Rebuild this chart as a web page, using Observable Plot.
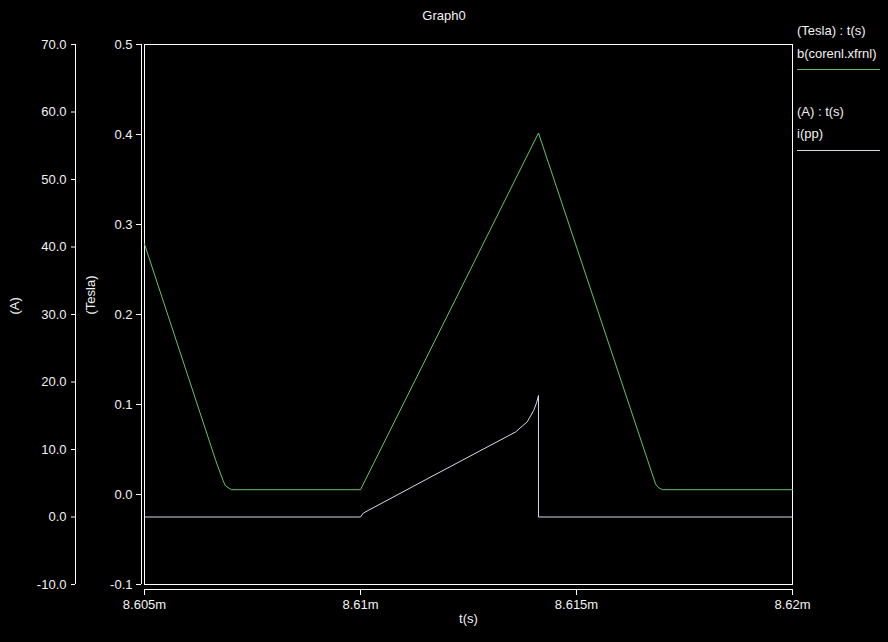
<!DOCTYPE html>
<html><head><meta charset="utf-8">
<script src="https://cdn.jsdelivr.net/npm/d3@7"></script>
<script src="https://cdn.jsdelivr.net/npm/@observablehq/plot@0.6"></script>
<style>
html,body{margin:0;padding:0;background:#000;}
#wrap{position:relative;width:888px;height:642px;background:#000;font-family:"Liberation Sans",Arial,sans-serif;font-size:13px;color:#f2f2f2;overflow:hidden}
#wrap svg{position:absolute;left:0;top:0}
.t{position:absolute;white-space:nowrap;line-height:15px}
.ln{position:absolute;height:1px}
</style></head><body>
<div id="wrap">
  <div class="t" style="left:0;width:888px;text-align:center;top:8px">Graph0</div>
  <div class="t" style="left:797px;top:23px">(Tesla) : t(s)</div>
  <div class="t" style="left:797px;top:46px">b(corenl.xfrnl)</div>
  <div class="ln" style="left:797px;top:69px;width:83px;background:#5fc05f"></div>
  <div class="t" style="left:797px;top:104px">(A) : t(s)</div>
  <div class="t" style="left:797px;top:126px">i(pp)</div>
  <div class="ln" style="left:797px;top:150px;width:83px;background:#dcd6ea"></div>
</div>
<script>
// time in ms
const tB   = [8.60500, 8.60665, 8.60682, 8.60687, 8.60701, 8.61000, 8.61126, 8.61412, 8.61665, 8.61683, 8.61690, 8.61699, 8.62000];
const bVal = [0.2783, 0.0376, 0.0153, 0.0098, 0.0053, 0.0053, 0.1264, 0.4017, 0.0376, 0.0117, 0.0076, 0.0053, 0.0053];
const tA   = [8.60500, 8.61000, 8.61007, 8.61150, 8.61359, 8.61386, 8.61401, 8.61408, 8.61412, 8.61412, 8.62000];
const aVal = [0, 0, 0.6, 5.5, 12.6, 14.1, 15.8, 17.0, 18.0, 0, 0];
const xTicks = [8.605, 8.61, 8.615, 8.62];
const xTickLabels = ["8.605m", "8.61m", "8.615m", "8.62m"];
const teslaTicks = [-0.1, 0, 0.1, 0.2, 0.3, 0.4, 0.5];
const ampTicks = [-10, 0, 10, 20, 30, 40, 50, 60, 70];

const W = 888, H = 642;
const M = {marginLeft: 144, marginRight: 96, marginTop: 44, marginBottom: 58};
const style = {background: "transparent", color: "#f2f2f2", fontFamily: '"Liberation Sans", Arial, sans-serif', fontSize: "13px", overflow: "visible"};
const fg = "#f2f2f2";

const bData = tB.map((t, i) => ({t, v: bVal[i]}));
const aData = tA.map((t, i) => ({t, v: aVal[i]}));

const p1 = Plot.plot({
  width: W, height: H, ...M, style,
  x: {domain: [8.605, 8.62]},
  y: {domain: [-0.1, 0.5]},
  marks: [
    Plot.frame({stroke: "#fff"}),
    Plot.ruleY([-0.1], {dy: 5, stroke: "#fff"}),
    Plot.axisX(xTicks, {anchor: "bottom", dy: 5, tickSize: 6, tickPadding: 4, label: null, stroke: "#fff",
      tickFormat: d => xTickLabels[xTicks.indexOf(d)]}),
    Plot.ruleX([8.605], {dx: -3, stroke: "#fff"}),
    Plot.axisY(teslaTicks, {anchor: "left", dx: -3, tickSize: 5, tickPadding: 4, label: null, stroke: "#fff",
      tickFormat: d => d.toFixed(1)}),
    Plot.text(["(Tesla)"], {text: d => d, frameAnchor: "left", dx: -54, rotate: -90, fill: fg}),
    Plot.text(["(A)"], {text: d => d, frameAnchor: "left", dx: -130, rotate: -90, fill: fg}),
    Plot.text(["t(s)"], {text: d => d, frameAnchor: "bottom", dy: 38, fill: fg}),
    Plot.line(bData, {x: "t", y: "v", stroke: "#66c466", strokeWidth: 1})
  ]
});

const p2 = Plot.plot({
  width: W, height: H, ...M, style,
  x: {domain: [8.605, 8.62], axis: null},
  y: {domain: [-10, 70]},
  marks: [
    Plot.ruleX([8.605], {dx: -69, stroke: "#fff"}),
    Plot.axisY(ampTicks, {anchor: "left", dx: -69, tickSize: 4, tickPadding: 5, label: null, stroke: "#fff",
      tickFormat: d => d.toFixed(1)}),
    Plot.line(aData, {x: "t", y: "v", stroke: "#dcd6ea", strokeWidth: 1})
  ]
});

const wrap = document.getElementById("wrap");
wrap.insertBefore(p2, wrap.firstChild);
wrap.insertBefore(p1, wrap.firstChild);
</script>
</body></html>
